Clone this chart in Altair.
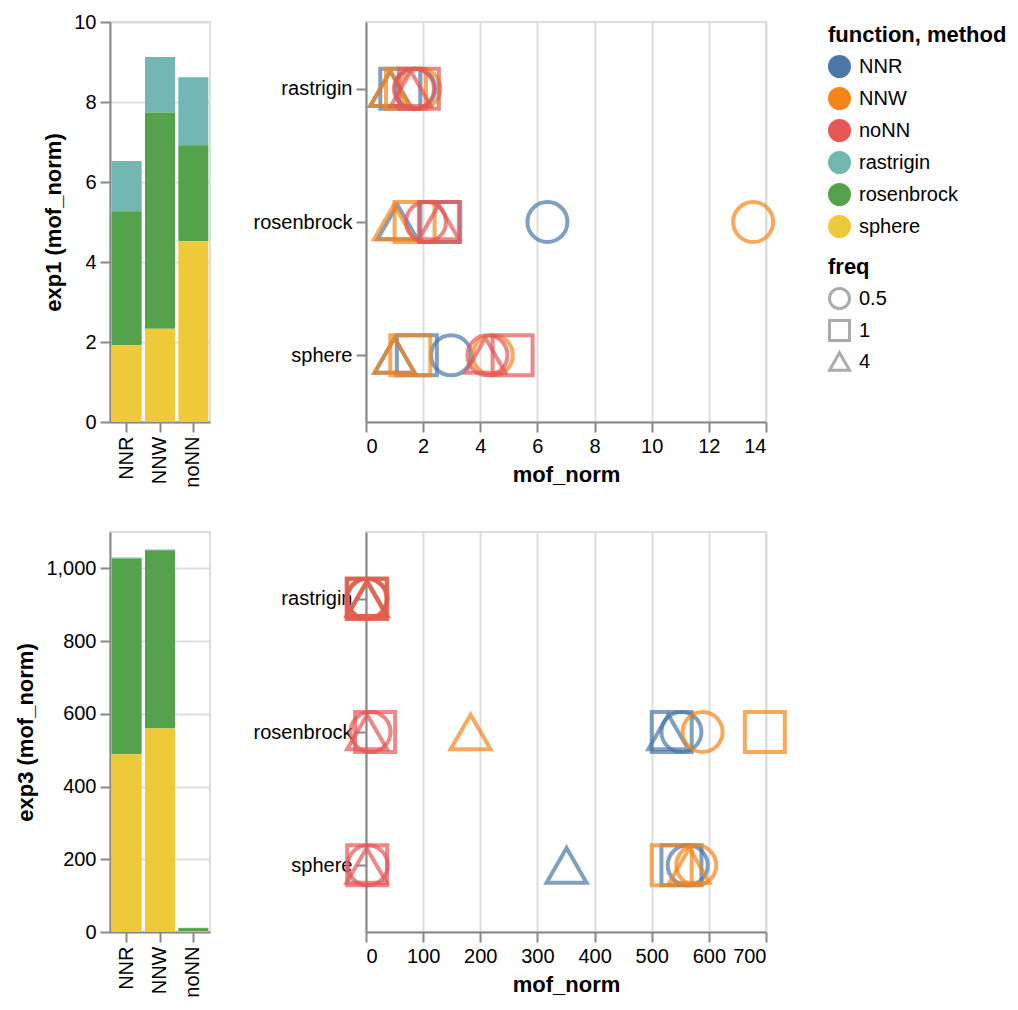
import altair as alt
import pandas as pd

functions = ["rastrigin", "rosenbrock", "sphere"]
methods = ["NNR", "NNW", "noNN"]
freqs = [0.5, 1, 4]

# mof_norm per method, listed for freq 0.5, 1, 4
exp1_rastrigin = {"NNR": [1.72, 1.20, 0.85], "NNW": [1.90, 1.40, 0.85], "noNN": [1.68, 1.85, 1.57]}
exp1_rosenbrock = {"NNR": [6.35, 2.60, 1.10], "NNW": [13.55, 1.70, 0.98], "noNN": [2.10, 2.55, 2.55]}
exp1_sphere = {"NNR": [2.98, 1.78, 1.00], "NNW": [4.44, 1.55, 1.00], "noNN": [4.25, 5.13, 4.18]}

exp3_rastrigin = {"NNR": [3.0, 2.0, 2.5], "NNW": [2.0, 2.0, 2.0], "noNN": [1.0, 1.0, 1.0]}
exp3_rosenbrock = {"NNR": [552, 535, 529], "NNW": [589, 698, 183], "noNN": [8, 16, 2]}
exp3_sphere = {"NNR": [563, 552, 351], "NNW": [578, 535, 566], "noNN": [3, 2, 1]}

experiments = {
    "exp1": {"rastrigin": exp1_rastrigin, "rosenbrock": exp1_rosenbrock, "sphere": exp1_sphere},
    "exp3": {"rastrigin": exp3_rastrigin, "rosenbrock": exp3_rosenbrock, "sphere": exp3_sphere},
}

rows = []
for exp, fdict in experiments.items():
    for fn in functions:
        for m in methods:
            for fq, v in zip(freqs, fdict[fn][m]):
                rows.append({"exp": exp, "function": fn, "method": m, "freq": fq, "mof_norm": v})
df = pd.DataFrame(rows)

color_domain = ["NNR", "NNW", "noNN", "rastrigin", "rosenbrock", "sphere"]
color_range = ["#4c78a8", "#f58518", "#e45756", "#72b7b2", "#54a24b", "#eeca3b"]
color_scale = alt.Scale(domain=color_domain, range=color_range)


def make_row(exp):
    d = df[df["exp"] == exp]
    bar = alt.Chart(d).mark_bar().encode(
        x=alt.X("method:N", title=None, axis=alt.Axis(labelAngle=270)),
        y=alt.Y("mean(mof_norm):Q", title=f"{exp} (mof_norm)", axis=alt.Axis(tickCount=5)),
        color=alt.Color("function:N", scale=color_scale,
                        legend=alt.Legend(title="function, method", symbolType="circle")),
    ).properties(width=100, height=400)
    pts = alt.Chart(d).mark_point(filled=False, size=1600, strokeWidth=4, opacity=0.7).encode(
        x=alt.X("mof_norm:Q", title="mof_norm", axis=alt.Axis(tickCount=5)),
        y=alt.Y("function:N", title=None),
        color=alt.Color("method:N", scale=color_scale, legend=None),
        shape=alt.Shape("freq:N", title="freq",
                        scale=alt.Scale(domain=freqs, range=["circle", "square", "triangle-up"])),
    ).properties(width=400, height=400)
    return alt.hconcat(bar, pts, spacing=41)


chart = alt.vconcat(make_row("exp1"), make_row("exp3"), spacing=42).properties(
    padding={"left": 13, "top": 11, "right": 0, "bottom": 0}
).configure(font="Liberation Sans").configure_axis(
    labelFontSize=20, titleFontSize=22, tickSize=10, tickWidth=2, domainWidth=2,
    gridWidth=2, labelPadding=4, titlePadding=8, labelColor="#000", titleColor="#000",
).configure_legend(
    titleFontSize=22, labelFontSize=20, symbolSize=400, symbolStrokeWidth=3,
    labelOffset=8, titlePadding=8, rowPadding=-1, offset=31, padding=3,
).configure_view(strokeWidth=2, stroke="#ddd")

chart.save("out.html", embed_options={"renderer": "svg", "actions": False})
